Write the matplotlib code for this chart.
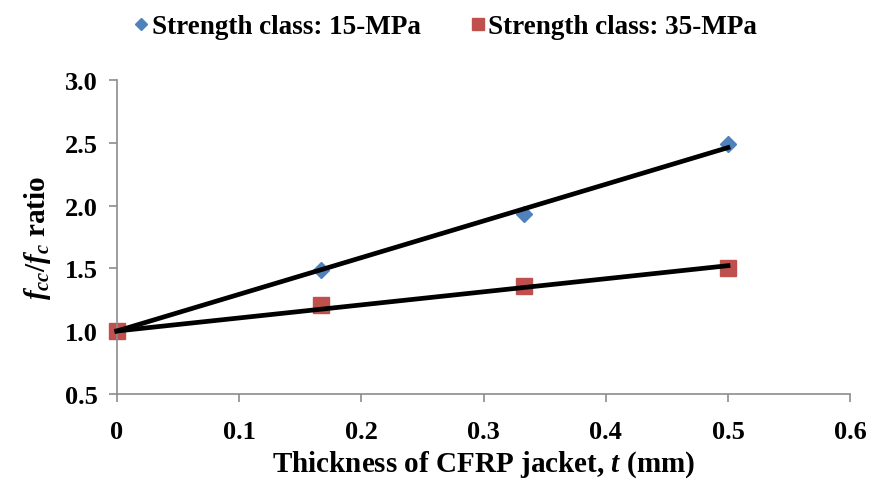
import numpy as np
import matplotlib
matplotlib.use("Agg")
import matplotlib.pyplot as plt

plt.rcParams['font.family'] = ['Liberation Serif', 'DejaVu Serif']
plt.rcParams['font.weight'] = 'bold'
plt.rcParams['mathtext.fontset'] = 'custom'
plt.rcParams['mathtext.rm'] = 'Liberation Serif:bold'
plt.rcParams['mathtext.it'] = 'Liberation Serif:italic:bold'
plt.rcParams['mathtext.bf'] = 'Liberation Serif:bold'

# data
thickness = [0, 1/6, 1/3, 0.5]
ratio_15 = [1.0, 1.49, 1.93, 2.49]
ratio_35 = [1.0, 1.21, 1.36, 1.50]
labels = ['Strength class: 15-MPa', 'Strength class: 35-MPa']

fig = plt.figure(figsize=(8.72, 4.85), dpi=100)
ax = fig.add_axes([0.134, 0.186, 0.841, 0.647])

x = np.array(thickness)

def trend(y):
    # linear trendline with intercept fixed at 1
    y = np.array(y)
    k = np.sum(x * (y - 1)) / np.sum(x * x)
    return 1 + k * x

ax.plot(x, ratio_15, 'D', color='#4F81BD', ms=8, label=labels[0], zorder=2, clip_on=False)
ax.plot(x, ratio_35, 's', color='#C0504D', ms=11, label=labels[1], zorder=2, clip_on=False)
ax.plot(x, trend(ratio_15), color='black', lw=3.4, zorder=3, clip_on=False)
ax.plot(x, trend(ratio_35), color='black', lw=3.4, zorder=3, clip_on=False)

ax.set_xlim(0, 0.6)
ax.set_ylim(0.5, 3.0)
ax.set_xticks(np.arange(0, 0.61, 0.1))
ax.set_xticklabels(['0', '0.1', '0.2', '0.3', '0.4', '0.5', '0.6'])
ax.set_yticks(np.arange(0.5, 3.01, 0.5))
ax.set_yticklabels(['%.1f' % v for v in np.arange(0.5, 3.01, 0.5)])

for s in ['top', 'right']:
    ax.spines[s].set_visible(False)
for s in ['left', 'bottom']:
    ax.spines[s].set_color('#8c8c8c')
    ax.spines[s].set_linewidth(1.2)
ax.tick_params(colors='#8c8c8c', labelcolor='black', labelsize=19, length=6, width=1.2)
ax.tick_params(axis='x', pad=13)
ax.tick_params(axis='y', pad=8)

ax.set_xlabel('Thickness of CFRP jacket, $t$ (mm)', fontsize=21, fontweight='bold', labelpad=4)
ax.set_ylabel(r'$f_{cc}/f_{c}$ ratio', fontsize=21, fontweight='bold', labelpad=8)

ax.legend(loc='center', bbox_to_anchor=(0.444, 1.17), ncol=2, frameon=False,
          fontsize=19.5, handletextpad=-0.1, columnspacing=1.6, handlelength=1.0,
          markerscale=0.8)

fig.savefig('out.png', dpi=100)
